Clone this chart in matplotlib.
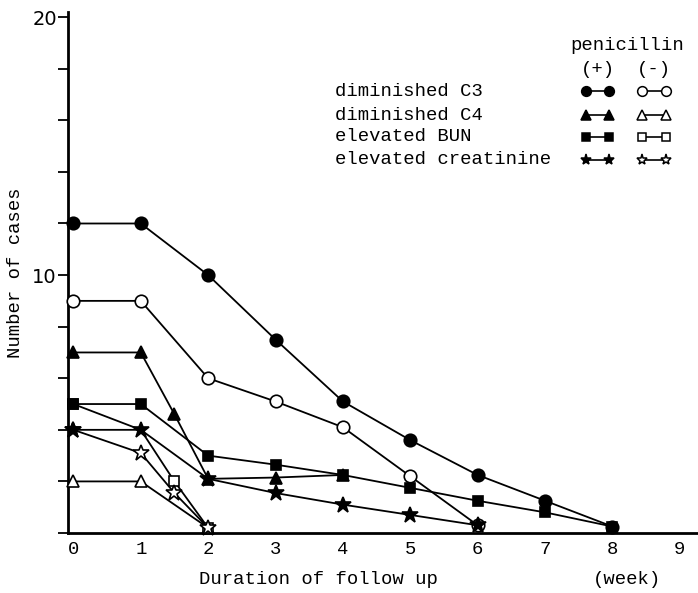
import matplotlib
matplotlib.use("Agg")
import matplotlib.pyplot as plt
from matplotlib.lines import Line2D

# weeks of follow up / number of cases
c3_pos_x = [0, 1, 2, 3, 4, 5, 6, 7, 8]
c3_pos_y = [12, 12, 10, 7.5, 5.1, 3.6, 2.25, 1.25, 0.25]
c3_neg_x = [0, 1, 2, 3, 4, 5, 6]
c3_neg_y = [9, 9, 6, 5.1, 4.1, 2.2, 0.3]

c4_pos_x = [0, 1, 1.5, 2, 3, 4]
c4_pos_y = [7, 7, 4.6, 2.1, 2.15, 2.25]
c4_neg_x = [0, 1, 2]
c4_neg_y = [2, 2, 0.2]

bun_pos_x = [0, 1, 2, 3, 4, 5, 6, 7, 8]
bun_pos_y = [5, 5, 3.0, 2.65, 2.25, 1.75, 1.25, 0.8, 0.25]
bun_neg_x = [0, 1, 1.5, 2]
bun_neg_y = [5, 4, 2, 0.2]

cre_pos_x = [0, 1, 2, 3, 4, 5, 6]
cre_pos_y = [4, 4, 2.1, 1.55, 1.1, 0.7, 0.3]
cre_neg_x = [0, 1, 1.5, 2]
cre_neg_y = [4, 3.1, 1.55, 0.2]

row_labels = ["diminished C3", "diminished C4", "elevated BUN", "elevated creatinine"]
row_markers = ["o", "^", "s", "*"]
row_sizes = [9, 8, 7.5, 12]

x_ticks = list(range(10))
y_ticks = list(range(0, 21, 2))

MONO = ["Liberation Mono", "DejaVu Sans Mono"]
plt.rcParams["font.family"] = MONO
FS = 13.6


def draw_series(ax, x, y, marker, size, filled, markevery=None):
    ax.plot(x, y, color="black", lw=1.3, marker=marker, markersize=size,
            markerfacecolor="black" if filled else "white",
            markeredgecolor="black", markeredgewidth=1.2,
            markevery=markevery, clip_on=False, zorder=3)


def main():
    fig = plt.figure(figsize=(6.98, 5.93), dpi=100)
    ax = fig.add_axes([68 / 698, 60 / 593, 630 / 698, 521 / 593])

    series = [
        (c3_pos_x, c3_pos_y, c3_neg_x, c3_neg_y),
        (c4_pos_x, c4_pos_y, c4_neg_x, c4_neg_y),
        (bun_pos_x, bun_pos_y, bun_neg_x, bun_neg_y),
        (cre_pos_x, cre_pos_y, cre_neg_x, cre_neg_y),
    ]
    # open symbols first, the filled ones sit on top
    for (px, py, nx, ny), m, ms in zip(series, row_markers, row_sizes):
        every = [0, 2, 3] if m == "s" else None  # square hidden under the star at week 1
        draw_series(ax, nx, ny, m, ms, False, every)
    for (px, py, nx, ny), m, ms in zip(series, row_markers, row_sizes):
        draw_series(ax, px, py, m, ms, True)

    ax.set_xlim(-0.08, 9.27)
    ax.set_ylim(0, 20.2)
    for side in ("top", "right"):
        ax.spines[side].set_visible(False)
    for side in ("left", "bottom"):
        ax.spines[side].set_linewidth(2)

    ax.set_xticks(x_ticks)
    ax.set_xticklabels([str(t) for t in x_ticks], fontsize=FS)
    ax.tick_params(axis="x", length=0, pad=6)
    ax.set_yticks(y_ticks)
    ax.set_yticklabels(["10" if t == 10 else "20" if t == 20 else "" for t in y_ticks],
                       fontsize=14, family=["DejaVu Sans"])
    ax.tick_params(axis="y", length=7, width=1.3, pad=1)

    ax.set_ylabel("Number of cases", fontsize=FS, labelpad=6)
    fig.text(318 / 698, 1 - 580 / 593, "Duration of follow up", fontsize=FS,
             ha="center", va="center")
    fig.text(627 / 698, 1 - 580 / 593, "(week)", fontsize=FS,
             ha="center", va="center")

    # key in the upper right
    W, H = 698.0, 593.0
    fig.text(627 / W, 1 - 46 / H, "penicillin", fontsize=FS, ha="center", va="center")
    fig.text(598 / W, 1 - 69 / H, "(+)", fontsize=FS, ha="center", va="center")
    fig.text(654 / W, 1 - 69 / H, "(-)", fontsize=FS, ha="center", va="center")
    row_y = [91, 115, 137, 160]
    key_sizes = [7, 6.5, 6, 8]
    for label, m, ks, yy in zip(row_labels, row_markers, key_sizes, row_y):
        fig.text(335 / W, 1 - yy / H, label, fontsize=FS, ha="left", va="center")
        for x0, x1, fill in ((586, 609, "black"), (642, 666, "white")):
            fig.add_artist(Line2D([x0 / W, x1 / W], [1 - yy / H, 1 - yy / H],
                                  color="black", lw=1.2, marker=m, markersize=ks,
                                  markerfacecolor=fill, markeredgecolor="black",
                                  markeredgewidth=1.1))

    fig.savefig("out.png", dpi=100)


if __name__ == "__main__":
    main()
